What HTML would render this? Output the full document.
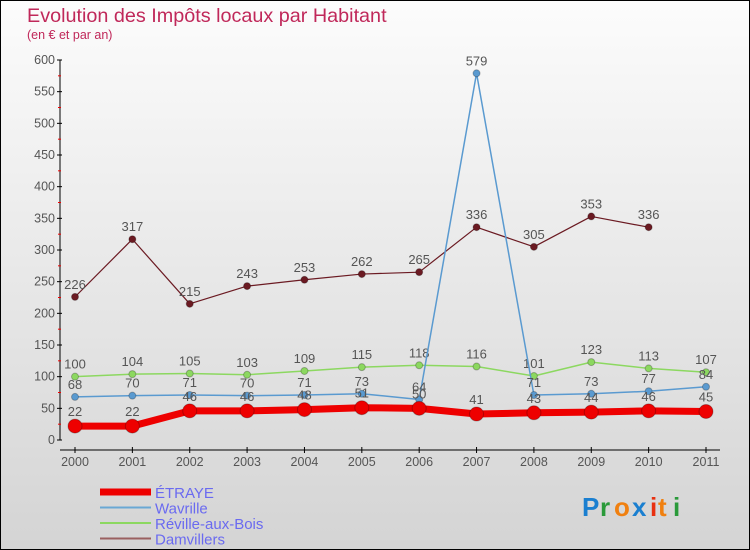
<!DOCTYPE html>
<html><head><meta charset="utf-8"><style>
body{margin:0;width:750px;height:550px;overflow:hidden;font-family:"Liberation Sans",sans-serif}
#c{position:absolute;left:0;top:0;width:748px;height:548px;border:1px solid #000;background:linear-gradient(#fcfcfc,#d4d4d4)}
</style></head><body>
<div id="c"></div>
<svg id="s" width="750" height="550" style="position:absolute;left:0;top:0">
<text x="27" y="22" font-size="19.8" fill="#c0285a">Evolution des Impôts locaux par Habitant</text>
<text x="27" y="39" font-size="12.5" fill="#c0285a">(en € et par an)</text>
<g id="axes"></g><g id="plot"></g><g id="legend"></g>
<g font-size="26" font-weight="bold">
<text x="582" y="516" fill="#1a7fd0">P</text><text x="600" y="516" fill="#2a9a3a">r</text><text x="614" y="516" fill="#f08010">o</text><text x="632" y="516" fill="#1a7fd0">x</text><text x="650" y="516" fill="#e83010">i</text><text x="658" y="516" fill="#f08010">t</text><text x="673" y="516" fill="#2a9a3a">i</text>
</g>
</svg>
<script>
const years=[2000,2001,2002,2003,2004,2005,2006,2007,2008,2009,2010,2011];
const yTicks=[0,50,100,150,200,250,300,350,400,450,500,550,600];
const etraye=[22,22,46,46,48,51,50,41,43,44,46,45];
const wavrille=[68,70,71,70,71,73,64,579,71,73,77,84];
const reville=[100,104,105,103,109,115,118,116,101,123,113,107];
const damvillers=[226,317,215,243,253,262,265,336,305,353,336,null];
const NS="http://www.w3.org/2000/svg";
const xs=i=>75+i*(706-75)/11;
const ys=v=>440-v*380/600;
function mk(p,t,a){const e=document.createElementNS(NS,t);for(const k in a)e.setAttribute(k,a[k]);p.appendChild(e);return e;}
const ax=document.getElementById('axes'),pl=document.getElementById('plot'),lg=document.getElementById('legend');
let l=mk(ax,'line',{x1:60,y1:60,x2:60,y2:440,stroke:'#000'});

l=mk(ax,'line',{x1:60,y1:450,x2:720,y2:450,stroke:'#000'});

yTicks.forEach(v=>{const y=ys(v);mk(ax,'line',{x1:57,y1:y,x2:62,y2:y,stroke:'#000'});
mk(ax,'line',{x1:58,y1:ys(v+25),x2:61,y2:ys(v+25),stroke:v<600?'#e00':'none'});
const t=mk(ax,'text',{x:55,y:y+4,'font-size':12.5,fill:'#555','text-anchor':'end'});t.textContent=v;
});
years.forEach((yr,i)=>{const x=xs(i);mk(ax,'line',{x1:x,y1:447,x2:x,y2:453,stroke:'#000'});
const t=mk(ax,'text',{x:x,y:466,'font-size':12.5,fill:'#555','text-anchor':'middle'});t.textContent=yr;
});
function series(arr,color,w,r,name){
const g=mk(pl,'g',{});
let d='';arr.forEach((v,i)=>{if(v==null)return;d+=(d?'L':'M')+xs(i)+','+ys(v);});
mk(g,'path',{d:d,fill:'none',stroke:color,'stroke-width':w,'stroke-linejoin':'round'});
arr.forEach((v,i)=>{if(v==null)return;const c=mk(g,'circle',{cx:xs(i),cy:ys(v),r:r,fill:color,stroke:'rgba(0,0,0,0.25)'});

const t=mk(g,'text',{x:xs(i),y:ys(v)-8-(r>5?2:0),'font-size':13,fill:'#555','text-anchor':'middle'});t.textContent=v;
});}
series(damvillers,'#6b1a22',1.2,3.5,'damvillers');
series(reville,'#8cd860',1.5,3.5,'reville-aux-bois');
series(wavrille,'#5a9ad0',1.5,3.5,'wavrille');
series(etraye,'#ee0000',7,7,'etraye');
const leg=[['ÉTRAYE','#ee0000',7],['Wavrille','#6aa8d4',2],['Réville-aux-Bois','#8cd860',2],['Damvillers','#9a6060',2]];
leg.forEach((e,i)=>{const y=492+i*15.5;const g=mk(lg,'g',{});

mk(g,'line',{x1:100,y1:y,x2:151,y2:y,stroke:e[1],'stroke-width':e[2]});
const t=mk(g,'text',{x:155,y:y+6,'font-size':15,fill:'#6a6af0'});t.textContent=e[0];});
</script>
</body></html>
